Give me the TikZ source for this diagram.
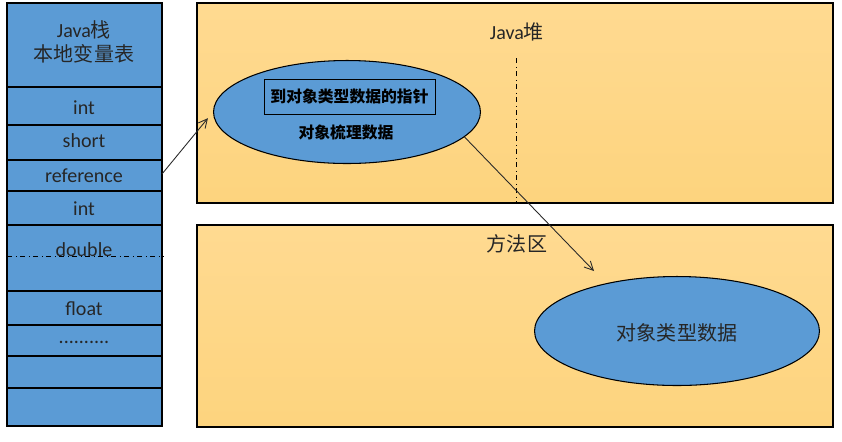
\documentclass[tikz,border=0pt]{standalone}
\usepackage{fontspec}
\setmainfont{Carlito}
\newfontfamily\cjk{Noto Sans CJK SC}
\usetikzlibrary{shapes.geometric,arrows.meta}
\definecolor{stackblue}{RGB}{91,155,213}
\definecolor{heaptop}{RGB}{255,218,145}
\definecolor{heapbot}{RGB}{253,212,126}
\definecolor{linegray}{RGB}{40,40,40}
\tikzset{
  cell/.style={font=\fontsize{11.4}{13.6}\selectfont, text=black!85, inner sep=0pt},
  area/.style={draw, line width=0.6pt, top color=heaptop, bottom color=heapbot},
  blob/.style={ellipse, draw, line width=0.6pt, fill=stackblue, inner sep=0pt},
  link/.style={-{Straight Barb[length=5pt,width=5pt]}, line width=0.5pt, draw=linegray},
}
\begin{document}
\begin{tikzpicture}[x=0.02cm, y=-0.02cm]
\useasboundingbox (0,0) rectangle (842,441);
% --- 左图：Java栈（本地变量表） ---
\draw[fill=stackblue, line width=0.6pt] (7,3) rectangle (162,426);
\foreach \y in {87,125,160,191,225,291,325,356,388}
  \draw[line width=0.6pt] (7,\y) -- (162,\y);
\draw[dash dot, line width=0.5pt] (7,256) -- (164,256);

\node[cell, align=center] (stack) at (84,42) {Java{\cjk 栈}\\{\cjk 本地变量表}};
\node[cell] (int1) at (84,108) {int};
\node[cell] (short) at (84,141) {short};
\node[cell] (ref) at (84,176) {reference};
\node[cell] (int2) at (84,209) {int};
\node[cell] (double) at (84,250) {double};
\node[cell] (float) at (84,309) {float};
\node[cell] (more) at (84,342) {..........};
\coordinate (refout) at (162,174);

% --- 右上：Java堆 ---
\draw[area] (197,3) rectangle (833,203);
\node[cell] (heap) at (517,32) {Java{\cjk 堆}};
\draw[dash dot, line width=0.5pt] (516,58) -- (516,203);

\node[blob, minimum width=5.34cm, minimum height=2.06cm] (obj) at (347,112) {};
\node[draw, line width=0.45pt, minimum width=3.42cm, minimum height=0.7cm,
  font=\cjk\bfseries\fontsize{9}{11}\selectfont] (ptr) at (349.5,96.5) {到对象类型数据的指针};
\node[font=\cjk\bfseries\fontsize{9}{11}\selectfont, inner sep=0pt] (inst) at (346,132) {对象梳理数据};

% --- 右下：方法区 ---
\draw[area] (197,225) rectangle (833,427);
\node[cell] (method) at (517,244) {\cjk 方法区};
\node[blob, minimum width=5.7cm, minimum height=2.18cm] (meta) at (677,331) {};
\node[cell] (metatext) at (677,333) {\cjk 对象类型数据};
\coordinate (metain) at (594,271);

% --- 引用关系 ---
\draw[link, shorten >=0.16cm] (refout) -- (obj.west);
\draw[link] (obj.-12) -- (metain);
\end{tikzpicture}
\end{document}
